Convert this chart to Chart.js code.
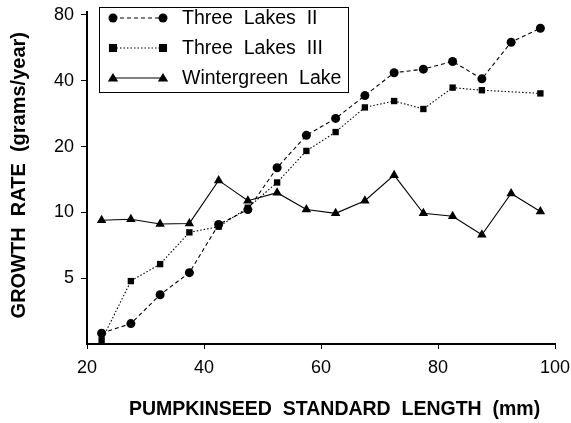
<!DOCTYPE html>
<html>
<head>
<meta charset="utf-8">
<script src="https://cdn.jsdelivr.net/npm/chart.js@4.4.1/dist/chart.umd.min.js"></script>
<style>
html, body { margin: 0; padding: 0; background: #fff; }
#wrap { width: 571px; height: 423px; }
</style>
</head>
<body>
<div id="wrap"><canvas id="growthChart"></canvas></div>
<script>
// standard length class midpoints (mm)
const lengths = [22.5, 27.5, 32.5, 37.5, 42.5, 47.5, 52.5, 57.5, 62.5, 67.5, 72.5, 77.5, 82.5, 87.5, 92.5, 97.5];
const threeLakesII  = [2.8, 3.1, 4.2, 5.3, 8.8, 10.3, 16, 22.5, 26.9, 34.2, 43.5, 45.2, 49, 40.8, 60, 69.5];
const threeLakesIII = [2.6, 4.85, 5.8, 8.1, 8.6, 10.5, 13.7, 19.1, 23.3, 30.2, 32.3, 29.7, 37.2, 36.2, null, 35];
const wintergreen   = [9.2, 9.3, 8.85, 8.9, 14, 11.3, 12.3, 10.3, 9.9, 11.3, 14.8, 9.9, 9.6, 7.9, 12.2, 10.1];
const yTicks = [5, 10, 20, 40, 80];
const xTicks = [20, 40, 60, 80, 100];
const seriesNames = ['Three Lakes II', 'Three Lakes III', 'Wintergreen Lake'];

const FONT = "'Liberation Sans', Arial, Helvetica, sans-serif";

function pts(vals) {
    return lengths.map((x, i) => ({ x: x, y: vals[i] }));
}

const styles = [
    { marker: 'circle',   dash: [4, 3] },
    { marker: 'rect',     dash: [1.5, 2] },
    { marker: 'triangle', dash: [] }
];

function drawMarker(ctx, type, x, y, r) {
    ctx.beginPath();
    if (type === 'circle') {
        ctx.arc(x, y, r, 0, Math.PI * 2);
    } else if (type === 'rect') {
        ctx.rect(x - r * 0.9, y - r * 0.9, r * 1.8, r * 1.8);
    } else {
        ctx.moveTo(x, y - r * 1.1);
        ctx.lineTo(x + r * 1.15, y + r * 0.8);
        ctx.lineTo(x - r * 1.15, y + r * 0.8);
        ctx.closePath();
    }
    ctx.fill();
}

// boxed legend inside plot, line with a marker on each end
const boxLegend = {
    id: 'boxLegend',
    afterDraw(chart) {
        const ctx = chart.ctx;
        ctx.save();
        ctx.strokeStyle = '#000';
        ctx.lineWidth = 1;
        ctx.strokeRect(99.5, 7.5, 249, 85);
        const rows = [18, 48, 78];
        ctx.font = '19.5px ' + FONT;
        ctx.textBaseline = 'middle';
        rows.forEach((ry, i) => {
            ctx.strokeStyle = '#000';
            ctx.lineWidth = 1.1;
            ctx.setLineDash(styles[i].dash);
            ctx.beginPath();
            ctx.moveTo(113, ry);
            ctx.lineTo(163, ry);
            ctx.stroke();
            ctx.setLineDash([]);
            ctx.fillStyle = '#000';
            drawMarker(ctx, styles[i].marker, 113, ry, 4.5);
            drawMarker(ctx, styles[i].marker, 163, ry, 4.5);
            ctx.fillText(seriesNames[i].replace(/ /g, '  '), 182, ry + 1);
        });
        ctx.restore();
    }
};

const datasets = [threeLakesII, threeLakesIII, wintergreen].map((vals, i) => ({
    label: seriesNames[i],
    data: pts(vals),
    borderColor: '#000',
    backgroundColor: '#000',
    borderWidth: 1.1,
    borderDash: styles[i].dash,
    pointStyle: styles[i].marker,
    pointRadius: styles[i].marker === 'triangle' ? 5.5 : 4.5,
    pointBorderWidth: 0,
    spanGaps: true,
    tension: 0
}));

const config = {
    type: 'line',
    data: { datasets: datasets },
    options: {
        responsive: true,
        maintainAspectRatio: false,
        animation: false,
        layout: { padding: { left: 0, right: 16, top: 12, bottom: 0 } },
        plugins: {
            legend: { display: false },
            tooltip: { enabled: false }
        },
        scales: {
            x: {
                type: 'linear',
                min: 20,
                max: 100,
                afterBuildTicks: s => { s.ticks = xTicks.map(v => ({ value: v })); },
                afterFit: s => { s.height = 79; s.paddingLeft = 0; s.paddingRight = 0; },
                border: { display: true, color: '#000', width: 2 },
                grid: { drawOnChartArea: false, color: '#000', tickLength: 5, tickWidth: 1 },
                ticks: { color: '#000', font: { family: FONT, size: 18 }, padding: 8, maxRotation: 0 },
                title: {
                    display: true,
                    text: '     PUMPKINSEED  STANDARD  LENGTH  (mm)',
                    color: '#000',
                    font: { family: FONT, size: 19.5, weight: 'bold', lineHeight: 1 },
                    padding: { top: 0, bottom: 4 }
                }
            },
            y: {
                type: 'logarithmic',
                min: 2.5,
                max: 82.5,
                afterBuildTicks: s => { s.ticks = yTicks.map(v => ({ value: v })); },
                afterFit: s => { s.width = 87; s.paddingTop = 0; s.paddingBottom = 0; },
                border: { display: true, color: '#000', width: 2 },
                grid: { drawOnChartArea: false, color: '#000', tickLength: 6, tickWidth: 1 },
                ticks: { color: '#000', font: { family: FONT, size: 18 }, padding: 7, callback: v => String(v) },
                title: {
                    display: true,
                    text: ' GROWTH  RATE  (grams/year)',
                    color: '#000',
                    font: { family: FONT, size: 20, weight: 'bold' },
                    padding: { top: 7, bottom: 0 }
                }
            }
        }
    },
    plugins: [boxLegend]
};

const canvas = document.getElementById('growthChart');
const growthChart = new Chart(canvas, config);
</script>
</body>
</html>
